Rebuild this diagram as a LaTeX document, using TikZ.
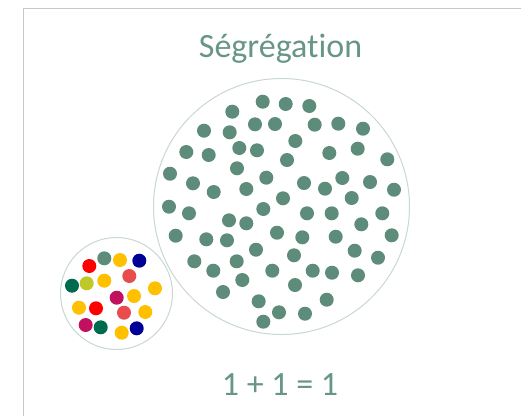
\documentclass[tikz,border=0pt]{standalone}
\usepackage{fontspec}
\setmainfont[Ligatures={NoCommon}]{Carlito}
\definecolor{dotgreen}{RGB}{94,140,122}
\definecolor{txtgreen}{RGB}{104,150,132}
\definecolor{ringcol}{RGB}{200,216,210}
\definecolor{framecol}{RGB}{200,200,200}
\definecolor{cred}{RGB}{255,0,0}
\definecolor{cyellow}{RGB}{255,192,0}
\definecolor{cnavy}{RGB}{0,0,150}
\definecolor{cdkgreen}{RGB}{0,106,78}
\definecolor{clime}{RGB}{190,200,40}
\definecolor{ccoral}{RGB}{232,76,76}
\definecolor{ccrimson}{RGB}{192,16,94}
\begin{document}
\begin{tikzpicture}[x=1pt,y=-1pt,
  ring/.style={draw=ringcol,line width=1pt,circle,inner sep=0pt},
  lbl/.style={text=txtgreen,font=\fontsize{34}{37}\selectfont,anchor=base,inner sep=0pt}]
\useasboundingbox (0,0) rectangle (521,416);
\fill[white] (0,0) rectangle (521,416);
\draw[framecol,line width=1.6pt] (23.3,416) -- (23.3,8.3) -- (521,8.3);
\node[lbl] (title) at (280.5,57.5) {Ségrégation};
\node[lbl] (eq) at (280,395) {1 + 1 = 1};
\node[ring,minimum size=256pt] (big) at (281.5,206.5) {};
\node[ring,minimum size=112pt] (small) at (116.5,293.5) {};
\foreach \x/\y in {262.7/101.7,285.7/104,309.3/106,232.3/111.7,255/124.3,275/124,314.7/124.7,338.3/123.7,363/128.7,204/130.7,229.7/132.3,295.3/141,239.3/148,257/150.3,186.3/152,208.7/155,329.3/153,357.7/148.7,287/160,387.3/159.3,237/168.3,170/173.7,266.3/177.7,342.3/178,193/183.3,304/183,370/182,325/188.7,394/189.7,213.7/192,246.3/189,283/198.3,351.7/198,169/206.7,189/213.3,263.3/209,307/213.3,331.7/213.3,382.3/213.3,229/220.3,246.3/223.3,361.3/224.3,277/232.7,175.7/235.7,206.3/239.3,227/240.3,302.3/237.3,335.7/236.7,391.7/235.3,256/249.7,354.7/250.7,294/255.3,378/257.7,194.3/261.3,236.7/261.3,213.3/270.7,272.3/270.7,312.7/270.7,332/272.7,358/275.3,242.3/280,223/292,295/285,326.7/299.7,258.7/301.3,279/312.3,305/313.7,263.3/321.7}
  \fill[dotgreen] (\x,\y) circle (7pt);
\foreach \x/\y/\c in {89.3/266/cred,104.3/258.3/dotgreen,120/260/cyellow,139.3/260.7/cnavy,72/285.7/cdkgreen,86.7/283.3/clime,104.3/280.7/cyellow,129.3/276/ccoral,155/288.3/cyellow,116.7/297.7/ccrimson,134/296/cyellow,79/307.7/cyellow,96/308.3/cred,124/312.7/ccoral,145.3/312/cyellow,85.7/325/ccrimson,100.7/327.3/cdkgreen,121.7/332.7/cyellow,136.7/328.3/cnavy}
  \fill[\c] (\x,\y) circle (7pt);
\end{tikzpicture}
\end{document}
